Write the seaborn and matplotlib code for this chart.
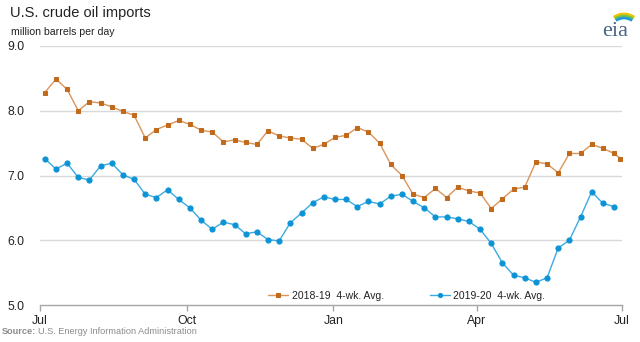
import numpy as np
import pandas as pd
import matplotlib
matplotlib.use("Agg")
import matplotlib.pyplot as plt
from matplotlib.patches import Arc
import seaborn as sns

# ---- data ----
imports_1819 = [8.28, 8.49, 8.33, 8.00, 8.14, 8.12, 8.06, 7.99, 7.93, 7.58, 7.71, 7.78, 7.85, 7.79,
                7.70, 7.67, 7.52, 7.55, 7.51, 7.48, 7.69, 7.61, 7.58, 7.56, 7.42, 7.48, 7.59,
                7.62, 7.74, 7.67, 7.50, 7.17, 7.00, 6.71, 6.66, 6.80, 6.66, 6.82, 6.76, 6.73,
                6.49, 6.64, 6.79, 6.82, 7.21, 7.18, 7.04, 7.34, 7.34, 7.48, 7.42, 7.34, 7.26]
imports_1920 = [7.26, 7.10, 7.19, 6.97, 6.93, 7.15, 7.19, 7.01, 6.94, 6.71, 6.66, 6.78, 6.63, 6.50,
                6.31, 6.17, 6.28, 6.24, 6.10, 6.13, 6.01, 5.99, 6.27, 6.42, 6.58, 6.67, 6.63,
                6.63, 6.52, 6.60, 6.56, 6.68, 6.71, 6.60, 6.50, 6.36, 6.36, 6.33, 6.29, 6.17,
                5.95, 5.65, 5.46, 5.42, 5.35, 5.42, 5.88, 6.00, 6.36, 6.75, 6.57, 6.52]
# day of season (days since Jul 1) for each weekly observation
days_1819 = [3 + 7 * i for i in range(52)] + [364]
days_1920 = [3 + 7 * i for i in range(52)]
series_labels = ["2018-19  4-wk. Avg.", "2019-20  4-wk. Avg."]
month_ticks = [0, 92, 184, 274, 365]
month_labels = ["Jul", "Oct", "Jan", "Apr", "Jul"]
y_ticks = [5.0, 6.0, 7.0, 8.0, 9.0]

df1 = pd.DataFrame({"day": days_1819, "value": imports_1819})
df2 = pd.DataFrame({"day": days_1920, "value": imports_1920})

sns.set_style("white")
plt.rcParams["font.family"] = ["Liberation Sans", "DejaVu Sans"]

fig = plt.figure(figsize=(6.4, 3.42), dpi=100)
W, H = 640, 342
ax = fig.add_axes([40 / W, 1 - 305 / H, 582 / W, 259 / H])

orange_line, orange_mk = "#d9955a", "#c26a1c"
blue_line, blue_mk = "#3aabe2", "#0c93d6"

sns.lineplot(data=df1, x="day", y="value", ax=ax, color=orange_line, lw=1.0,
             marker="s", markersize=3.4, markerfacecolor=orange_mk, markeredgecolor=orange_mk,
             label=series_labels[0], clip_on=False)
sns.lineplot(data=df2, x="day", y="value", ax=ax, color=blue_line, lw=1.0,
             marker="o", markersize=3.7, markerfacecolor=blue_mk, markeredgecolor=blue_mk,
             label=series_labels[1], clip_on=False)

ax.set_xlim(0, 365)
ax.set_ylim(5.0, 9.0)
ax.set_yticks(y_ticks)
ax.set_yticklabels([f"{v:.1f}" for v in y_ticks])
ax.set_xticks(month_ticks)
ax.set_xticklabels(month_labels)
ax.set_xlabel("")
ax.set_ylabel("")

for v in y_ticks[1:]:
    ax.axhline(v, color="#d9d9d9", lw=1.0, zorder=0)

for s in ["top", "right", "left"]:
    ax.spines[s].set_visible(False)
ax.spines["bottom"].set_color("#a6a6a6")
ax.spines["bottom"].set_linewidth(1.0)

ax.tick_params(axis="x", which="both", bottom=True, length=4, width=1.0, color="#a6a6a6",
               labelsize=8.8, labelcolor="#222222", pad=3, direction="out")
ax.tick_params(axis="y", left=False, labelsize=8.8, labelcolor="#222222", pad=8)

leg = ax.legend(loc="lower left", bbox_to_anchor=(0.375, -0.02), ncol=2, frameon=False,
                fontsize=7.5, handlelength=2.0, handletextpad=0.3, columnspacing=4.4,
                numpoints=1, markerscale=0.8)
for t in leg.get_texts():
    t.set_color("#222222")

fig.text(10 / W, 1 - 13 / H, "U.S. crude oil imports", fontsize=10.5, color="#222222",
         va="center", ha="left")
fig.text(11 / W, 1 - 32 / H, "million barrels per day", fontsize=7.6, color="#222222",
         va="center", ha="left")
src = fig.text(2 / W, 1 - 332 / H, "Source:", fontsize=6.6, color="#8c8c8c", fontweight="bold",
               va="center", ha="left")
fig.canvas.draw()
bb = src.get_window_extent(renderer=fig.canvas.get_renderer())
fig.text((bb.x1 + 2) / W, 1 - 332 / H, "U.S. Energy Information Administration", fontsize=6.6,
         color="#8c8c8c", va="center", ha="left")

# eia logo
fig.text(615 / W, 1 - 31 / H, "eia", fontsize=16, family="Liberation Serif", color="#4a6584",
         ha="center", va="center")
lax = fig.add_axes([598 / W, 1 - 30 / H, 38 / W, 22 / H])
lax.set_xlim(0, 38)
lax.set_ylim(0, 22)
lax.axis("off")
for (c, r, w) in [("#f2c500", 18, 2.0), ("#7cc242", 16, 2.0), ("#1f9ad6", 14, 2.0)]:
    lax.add_patch(Arc((26, -2), 2 * r, 2 * r, theta1=55, theta2=125, color=c, lw=w))

fig.savefig("out.png", dpi=100)
